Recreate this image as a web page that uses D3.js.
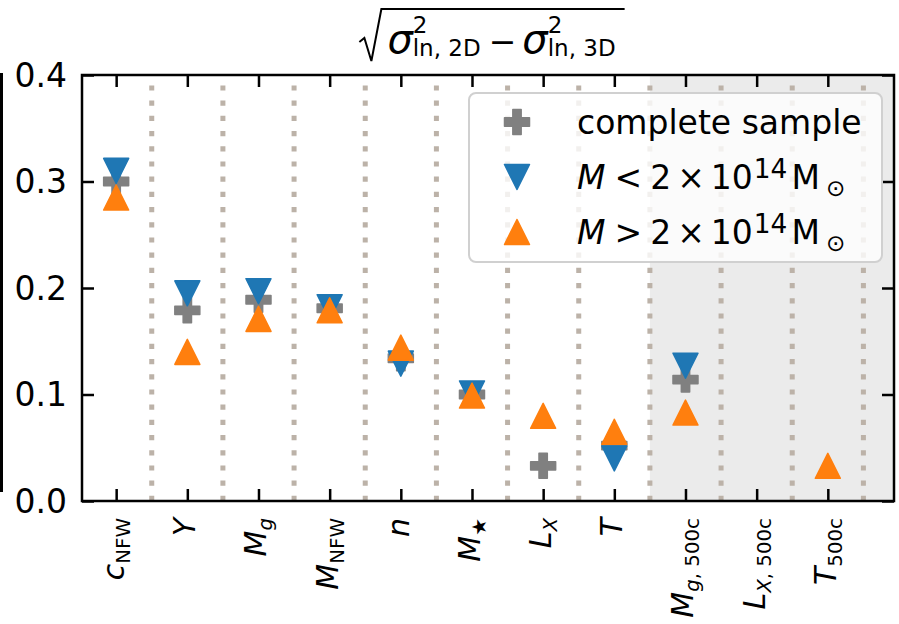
<!DOCTYPE html>
<html>
<head>
<meta charset="utf-8">
<script src="https://cdn.jsdelivr.net/npm/d3@7/dist/d3.min.js"></script>
<style>
  body { margin: 0; background: #fff; }
  svg { display: block; }
  text { font-family: "DejaVu Sans", sans-serif; fill: #000; }
</style>
</head>
<body>
<svg id="chart" width="899" height="624"></svg>
<script>
// ---- data ----------------------------------------------------------------
const categories = ["c_NFW", "Y", "M_g", "M_NFW", "n", "M_star", "L_X", "T",
                    "M_g500c", "L_X500c", "T_500c"];

// tick labels as math segments: t = text, it = italic, sub/sup = script
const tickLabels = [
  [{t: "c", it: true}, {t: "NFW", sub: true}],
  [{t: "Y", it: true}],
  [{t: "M", it: true}, {t: "g", it: true, sub: true}],
  [{t: "M", it: true}, {t: "NFW", sub: true}],
  [{t: "n", it: true}],
  [{t: "M", it: true}, {t: "\u2605", sub: true}],
  [{t: "L", it: true}, {t: "X", it: true, sub: true}],
  [{t: "T", it: true}],
  [{t: "M", it: true}, {t: "g", it: true, sub: true}, {t: ", 500c", sub: true}],
  [{t: "L", it: true}, {t: "X", it: true, sub: true}, {t: ", 500c", sub: true}],
  [{t: "T", it: true}, {t: "500c", sub: true}]
];

// scatter (sqrt of the 2D minus 3D log-variance) per observable
const completeSample = [0.300, 0.179, 0.189, 0.181, 0.134, 0.100, 0.033, 0.052, 0.114, null, null];
const lowMass        = [0.310, 0.195, 0.197, 0.182, 0.129, 0.101, null,  0.040, 0.127, null, null];
const highMass       = [0.285, 0.140, 0.171, 0.179, 0.144, 0.099, 0.080, 0.065, 0.083, null, 0.033];

const yTicks = [0.0, 0.1, 0.2, 0.3, 0.4];
const shadedFrom = 7.5;   // start of the R500c block

const legendLabels = [
  [{t: "complete sample"}],
  [{t: "M", it: true}, {t: "<", dx: 9}, {t: "2", dx: 8}, {t: "\u00d7", dx: 6}, {t: "10", dx: 6},
   {t: "14", sup: true, scale: 0.8, dx: 1}, {t: "M", dx: 4}, {t: "\u2299", sub: true, shift: 7, dx: 6}],
  [{t: "M", it: true}, {t: ">", dx: 9}, {t: "2", dx: 8}, {t: "\u00d7", dx: 6}, {t: "10", dx: 6},
   {t: "14", sup: true, scale: 0.8, dx: 1}, {t: "M", dx: 4}, {t: "\u2299", sub: true, shift: 7, dx: 6}]
];

// ---- setup ---------------------------------------------------------------
const FS = 33;        // legend / y tick size
const XFS = 30;       // x tick label size
const GREY = "#808080", BLUE = "#1f77b4", ORANGE = "#ff7f0e";
const svg = d3.select("#chart");

const x = d3.scaleLinear().domain([-0.48, 10.93]).range([82, 894]);
const y = d3.scaleLinear().domain([0, 0.4]).range([501, 75]);
const [x0, x1] = x.range(), [y0, y1] = y.range();

// writes math segments into a <text> as tspans
function addMath(text, segs, size, scriptScale = 0.7) {
  let shift = 0;
  segs.forEach(s => {
    const target = s.sub ? (s.shift ?? 0.2 * size) : s.sup ? -(s.shift ?? 0.34 * size) : 0;
    text.append("tspan")
      .attr("font-size", (s.sub || s.sup) ? size * (s.scale ?? scriptScale) : size)
      .attr("font-style", s.it ? "italic" : "normal")
      .attr("dx", s.dx ?? 0)
      .attr("dy", target - shift)
      .text(s.t);
    shift = target;
  });
}

// ---- background: shaded block and dotted separators ----------------------
svg.append("rect")
  .attr("x", x(shadedFrom)).attr("y", y1)
  .attr("width", x1 - x(shadedFrom)).attr("height", y0 - y1)
  .attr("fill", "#ebebeb");

svg.append("g").selectAll("line")
  .data(d3.range(categories.length).map(i => i + 0.5))
  .join("line")
  .attr("x1", d => x(d)).attr("x2", d => x(d))
  .attr("y1", y0).attr("y2", y1)
  .attr("stroke", "#bcb2a8")
  .attr("stroke-width", 5)
  .attr("stroke-dasharray", "5.2 10");

// ---- markers ---------------------------------------------------------------
const H = 12.5;
const plusPath = (() => {
  const a = H, b = H / 3;
  return `M${-b},${-a}H${b}V${-b}H${a}V${b}H${b}V${a}H${-b}V${b}H${-a}V${-b}H${-b}Z`;
})();
const triDown = `M0,${H}L${-H},${-H}L${H},${-H}Z`;
const triUp = `M0,${-H}L${-H},${H}L${H},${H}Z`;

const series = [
  {values: completeSample, path: plusPath, color: GREY},
  {values: lowMass, path: triDown, color: BLUE},
  {values: highMass, path: triUp, color: ORANGE}
];

series.forEach(s => {
  svg.append("g").selectAll("path")
    .data(s.values.map((v, i) => ({i, v})).filter(d => d.v != null))
    .join("path")
    .attr("transform", d => `translate(${x(d.i)},${y(d.v)})`)
    .attr("d", s.path)
    .attr("fill", s.color)
    .attr("stroke", s.color)
    .attr("stroke-width", 1.5)
    .attr("stroke-linejoin", "round");
});

// ---- axes (ticks pointing inward on all four sides) -----------------------
const idx = d3.range(categories.length);
function styleAxis(g) {
  g.select(".domain").remove();
  g.selectAll(".tick line").attr("stroke", "#000").attr("stroke-width", 2.5);
  g.selectAll(".tick text").remove();
}
svg.append("g").attr("transform", `translate(0,${y0})`)
  .call(d3.axisBottom(x).tickValues(idx).tickSizeInner(-12).tickSizeOuter(0)).call(styleAxis);
svg.append("g").attr("transform", `translate(0,${y1})`)
  .call(d3.axisTop(x).tickValues(idx).tickSizeInner(-12).tickSizeOuter(0)).call(styleAxis);
svg.append("g").attr("transform", `translate(${x0},0)`)
  .call(d3.axisLeft(y).tickValues(yTicks).tickSizeInner(-12).tickSizeOuter(0)).call(styleAxis);
svg.append("g").attr("transform", `translate(${x1},0)`)
  .call(d3.axisRight(y).tickValues(yTicks).tickSizeInner(-12).tickSizeOuter(0)).call(styleAxis);

svg.append("rect")
  .attr("x", x0).attr("y", y1).attr("width", x1 - x0).attr("height", y0 - y1)
  .attr("fill", "none").attr("stroke", "#000").attr("stroke-width", 2.5);

// y tick labels
svg.append("g").selectAll("text")
  .data(yTicks).join("text")
  .attr("x", x0 - 15).attr("y", d => y(d)).attr("dy", "0.36em")
  .attr("text-anchor", "end").attr("font-size", FS)
  .text(d => d3.format(".1f")(d));

// x tick labels, rotated to read upward
tickLabels.forEach((segs, i) => {
  const t = svg.append("text")
    .attr("transform", `translate(${x(i) + 8},518) rotate(-90)`)
    .attr("text-anchor", "end")
    .attr("font-size", XFS);
  addMath(t, segs, XFS, 0.66);
});

// edge of the neighbouring panel on the far left
svg.append("line")
  .attr("x1", 1.5).attr("x2", 1.5).attr("y1", 73).attr("y2", 492)
  .attr("stroke", "#000").attr("stroke-width", 3);

// ---- title: sqrt(sigma^2_ln,2D - sigma^2_ln,3D) ----------------------------
(function title() {
  const g = svg.append("g");
  const base = 53;
  const SIG = 40, SCR = 23;
  let cx = 0;
  function put(str, size, style, dyv) {
    const t = g.append("text").attr("x", cx).attr("y", base + dyv)
      .attr("font-size", size).attr("font-style", style).text(str);
    return t.node().getComputedTextLength();
  }
  const start = 24;
  cx = start + 4;
  function sigmaTerm(label) {
    cx += put("\u03c3", SIG, "italic", 0);
    const sx = cx;
    const wSup = put("2", SCR, "normal", -20);
    cx = sx;
    const wSub = put(label, SCR, "normal", 3);
    cx = sx + Math.max(wSup, wSub);
  }
  sigmaTerm("ln, 2D");
  cx += 8;
  cx += put("\u2212", FS, "normal", 0);
  cx += 6;
  sigmaTerm("ln, 3D");
  const end = cx + 9;
  g.append("path")
    .attr("d", `M0,${base - 11}L5,${base - 15}L12,${base + 8}L${start - 2},${base - 44}L${end},${base - 44}`)
    .attr("fill", "none").attr("stroke", "#000").attr("stroke-width", 2)
    .attr("stroke-linejoin", "miter");
  g.attr("transform", `translate(${492 - end / 2},0)`);
})();

// ---- legend ----------------------------------------------------------------
const legend = svg.append("g");
legend.append("rect")
  .attr("x", 469).attr("y", 93).attr("width", 413).attr("height", 169)
  .attr("rx", 7).attr("fill", "#fff").attr("fill-opacity", 0.8)
  .attr("stroke", "#d0d0d0").attr("stroke-width", 2);
const rowY = [122, 177, 232];
series.forEach((s, i) => {
  legend.append("path")
    .attr("transform", `translate(517,${rowY[i]})`)
    .attr("d", s.path).attr("fill", s.color).attr("stroke", s.color)
    .attr("stroke-width", 1.5).attr("stroke-linejoin", "round");
  const t = legend.append("text")
    .attr("x", 577).attr("y", rowY[i] + 12).attr("font-size", FS);
  addMath(t, legendLabels[i], FS);
});
</script>
</body>
</html>
